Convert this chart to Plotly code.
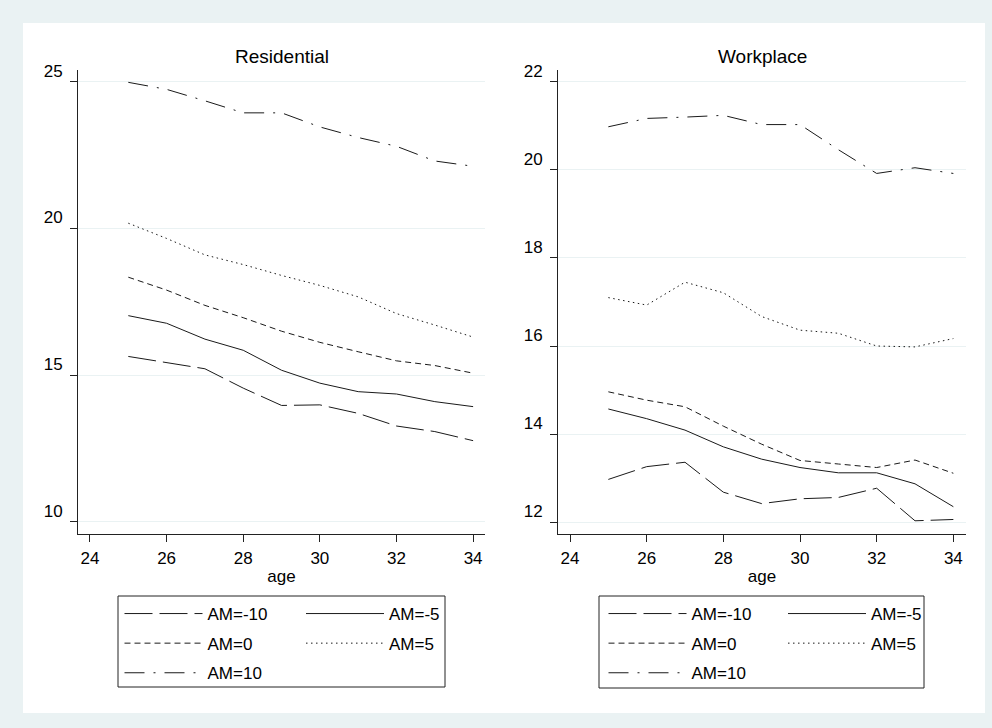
import plotly.graph_objects as go

# ---------------- data ----------------
ages = [25, 26, 27, 28, 29, 30, 31, 32, 33, 34]
series_names = ["AM=-10", "AM=-5", "AM=0", "AM=5", "AM=10"]

res_am_m10 = [15.64, 15.43, 15.22, 14.56, 13.97, 13.99, 13.70, 13.27, 13.08, 12.77]
res_am_m5 = [17.03, 16.77, 16.23, 15.85, 15.17, 14.73, 14.44, 14.36, 14.10, 13.93]
res_am_0 = [18.34, 17.90, 17.38, 16.96, 16.50, 16.12, 15.80, 15.49, 15.33, 15.07]
res_am_5 = [20.18, 19.66, 19.10, 18.77, 18.40, 18.06, 17.67, 17.10, 16.71, 16.30]
res_am_10 = [24.98, 24.74, 24.35, 23.94, 23.94, 23.46, 23.10, 22.80, 22.30, 22.12]

work_am_m10 = [12.97, 13.26, 13.36, 12.68, 12.42, 12.53, 12.56, 12.77, 12.03, 12.06]
work_am_m5 = [14.57, 14.35, 14.09, 13.71, 13.43, 13.24, 13.12, 13.12, 12.87, 12.35]
work_am_0 = [14.96, 14.77, 14.62, 14.18, 13.77, 13.40, 13.32, 13.24, 13.41, 13.11]
work_am_5 = [17.10, 16.93, 17.45, 17.21, 16.67, 16.36, 16.29, 16.00, 15.98, 16.17]
work_am_10 = [20.98, 21.17, 21.20, 21.24, 21.03, 21.03, 20.46, 19.92, 20.05, 19.92]

x_ticks = [24, 26, 28, 30, 32, 34]
res_y_ticks = [10, 15, 20, 25]
work_y_ticks = [12, 14, 16, 18, 20, 22]
panel_titles = ["Residential", "Workplace"]
x_title = "age"

# ---------------- styling ----------------
W, H = 992, 728
BG = "#EAF2F3"
LINE = "#1a1a1a"
AX = "#222222"
FONT = "Liberation Sans, Arial, sans-serif"

dashes = ["28px,7px", "solid", "6px,4px", "1.5px,3.5px", "20px,9px,2px,9px"]
# legend column assignment: col1 -> -10, 0, 10 ; col2 -> -5, 5
res_legends = ["legend", "legend2", "legend", "legend2", "legend"]
work_legends = ["legend3", "legend4", "legend3", "legend4", "legend3"]


def px_x(p):
    return p / W


def px_y(p):
    return 1 - p / H


fig = go.Figure()

res_series = [res_am_m10, res_am_m5, res_am_0, res_am_5, res_am_10]
work_series = [work_am_m10, work_am_m5, work_am_0, work_am_5, work_am_10]

for i, (name, vals) in enumerate(zip(series_names, res_series)):
    fig.add_trace(go.Scatter(
        x=ages, y=vals, name=name, mode="lines",
        line=dict(color=LINE, width=1, dash=dashes[i]),
        xaxis="x", yaxis="y", legend=res_legends[i],
        legendgroup="r" + str(i), hoverinfo="skip"))

for i, (name, vals) in enumerate(zip(series_names, work_series)):
    fig.add_trace(go.Scatter(
        x=ages, y=vals, name=name, mode="lines",
        line=dict(color=LINE, width=1, dash=dashes[i]),
        xaxis="x2", yaxis="y2", legend=work_legends[i],
        legendgroup="w" + str(i), hoverinfo="skip"))

common_x = dict(
    tickvals=x_ticks, ticks="outside", ticklen=7, tickcolor=AX, tickwidth=1,
    showline=True, linecolor=AX, linewidth=1, showgrid=False, zeroline=False,
    ticklabelstandoff=2, automargin=False,
    tickfont=dict(family=FONT, size=17, color="black"),
    title=dict(text=x_title, font=dict(family=FONT, size=17, color="black"), standoff=2),
)
common_y = dict(
    ticks="outside", ticklen=7, tickcolor=AX, tickwidth=1,
    showline=True, linecolor=AX, linewidth=1, showgrid=True, gridcolor=BG, gridwidth=1,
    zeroline=False, ticklabelshift=-11, ticklabelstandoff=4, automargin=False,
    tickfont=dict(family=FONT, size=17, color="black"),
)

legend_common = dict(
    bgcolor="rgba(0,0,0,0)", borderwidth=0, itemwidth=78, tracegroupgap=4.5,
    font=dict(family=FONT, size=17, color="black"),
    xanchor="left", yanchor="top", orientation="v", itemclick=False,
)

leg_top = px_y(596)

fig.update_layout(
    width=W, height=H,
    margin=dict(l=0, r=0, t=0, b=0, autoexpand=False),
    paper_bgcolor=BG, plot_bgcolor="white",
    showlegend=True,
    xaxis=dict(domain=[px_x(78), px_x(485)], range=[23.687, 34.31], anchor="y", **common_x),
    yaxis=dict(domain=[px_y(534), px_y(70)], range=[9.59, 25.40], tickvals=res_y_ticks,
               anchor="x", **common_y),
    xaxis2=dict(domain=[px_x(558), px_x(966)], range=[23.687, 34.33], anchor="y2", **common_x),
    yaxis2=dict(domain=[px_y(534), px_y(70)], range=[11.73, 22.27], tickvals=work_y_ticks,
                anchor="x2", **common_y),
    legend=dict(x=px_x(119.5), y=leg_top, **legend_common),
    legend2=dict(x=px_x(301), y=leg_top, **legend_common),
    legend3=dict(x=px_x(603.5), y=leg_top, **legend_common),
    legend4=dict(x=px_x(783), y=leg_top, **legend_common),
    shapes=[
        dict(type="rect", xref="paper", yref="paper", layer="below",
             x0=px_x(23), x1=px_x(985), y0=px_y(713), y1=px_y(23),
             fillcolor="white", line=dict(width=0)),
        dict(type="rect", xref="paper", yref="paper", layer="above",
             x0=px_x(118), x1=px_x(445), y0=px_y(687), y1=px_y(596),
             fillcolor="rgba(0,0,0,0)", line=dict(color=AX, width=1)),
        dict(type="rect", xref="paper", yref="paper", layer="above",
             x0=px_x(599), x1=px_x(924), y0=px_y(688), y1=px_y(596),
             fillcolor="rgba(0,0,0,0)", line=dict(color=AX, width=1)),
    ],
    annotations=[
        dict(text=panel_titles[0], xref="x domain", yref="paper", x=0.5, y=px_y(57),
             xanchor="center", yanchor="middle", showarrow=False,
             font=dict(family=FONT, size=19, color="black")),
        dict(text=panel_titles[1], xref="x2 domain", yref="paper", x=0.5, y=px_y(57),
             xanchor="center", yanchor="middle", showarrow=False,
             font=dict(family=FONT, size=19, color="black")),
    ],
)

post_js = (
    "document.documentElement.style.margin='0';"
    "document.documentElement.style.padding='0';"
    "document.documentElement.style.overflow='hidden';"
    "document.documentElement.style.background='" + BG + "';"
    "document.body.style.margin='0';"
    "document.body.style.padding='0';"
    "document.body.style.overflow='hidden';"
    "var gd=document.getElementById('{plot_id}');"
    "gd.style.position='fixed';gd.style.top='0px';gd.style.left='0px';"
)

fig.write_html(
    "out.html",
    config={"displayModeBar": False, "staticPlot": True},
    post_script=post_js,
)
